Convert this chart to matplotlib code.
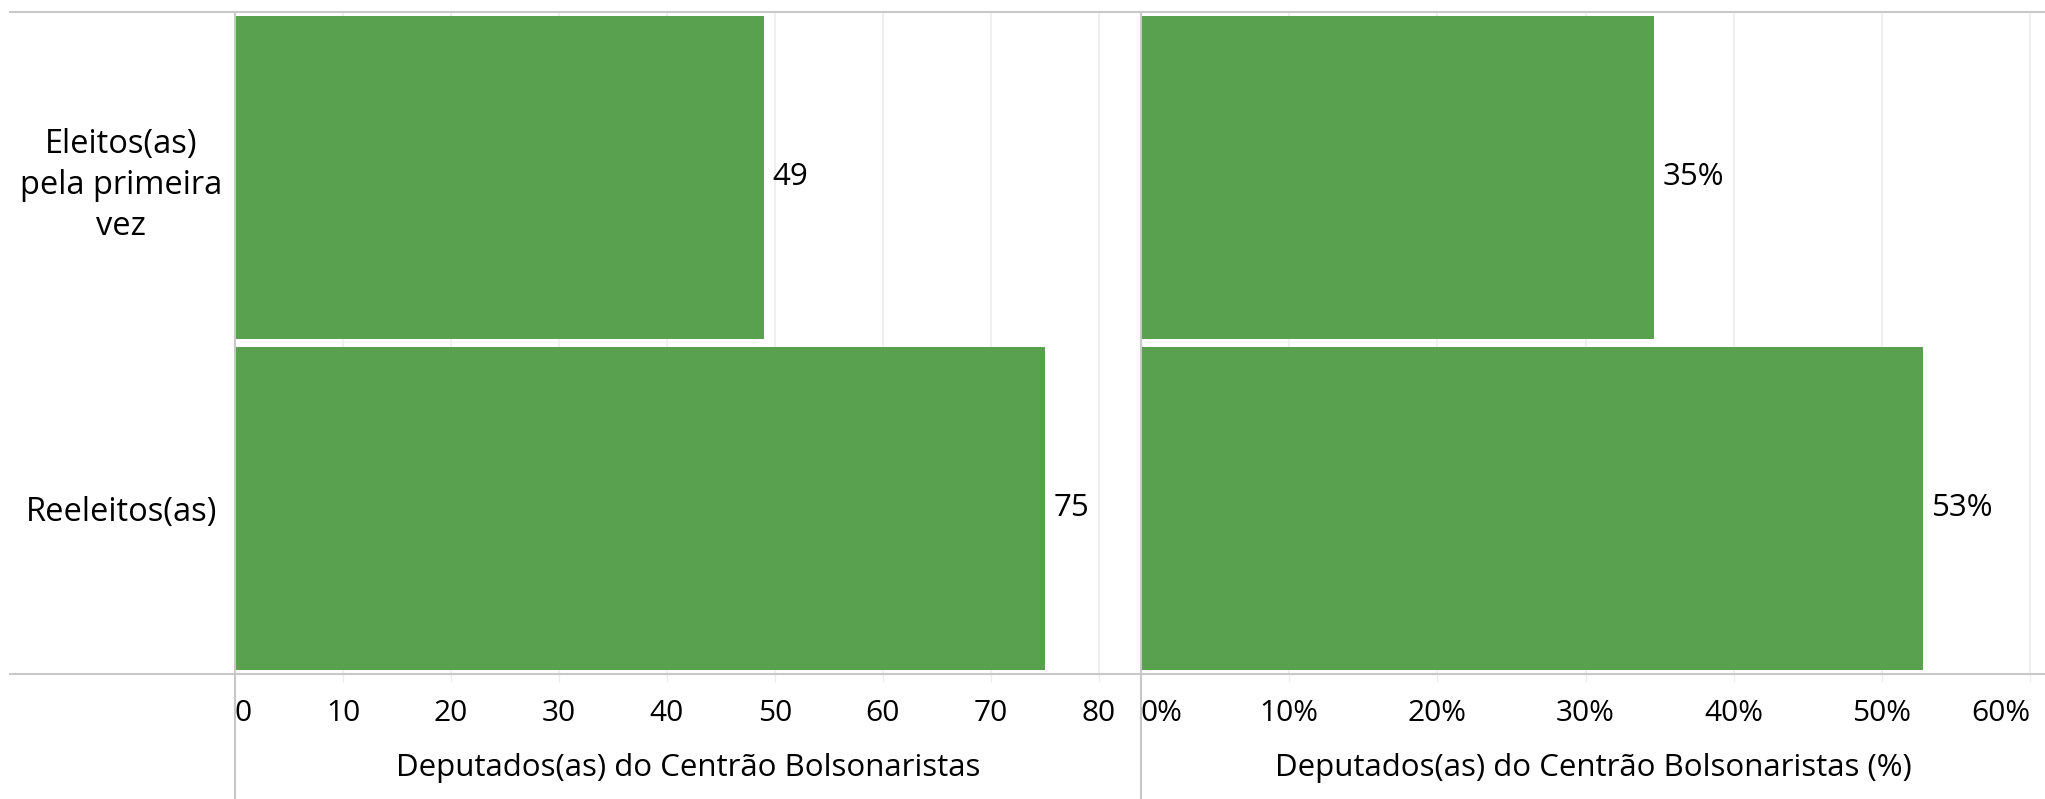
import matplotlib.pyplot as plt
from matplotlib.lines import Line2D

plt.rcParams['font.family'] = ['Open Sans', 'DejaVu Sans']

categorias = ['Eleitos(as)\npela primeira\nvez', 'Reeleitos(as)']
deputados = [49, 75]
percentual = [34.6, 52.8]
rotulos_pct = ['35%', '53%']
ticks_n = [0, 10, 20, 30, 40, 50, 60, 70, 80]
ticks_pct = [0, 10, 20, 30, 40, 50, 60]

verde = '#59a14f'
cinza = '#c8c8c8'
grade = '#ececec'

W, H = 2045, 799
fig = plt.figure(figsize=(W / 100, H / 100), dpi=100)

x0, x1, x2 = 235, 1141, 2045
ytop, ybot = 12, 674
ax1 = fig.add_axes([x0 / W, (H - ybot) / H, (x1 - x0) / W, (ybot - ytop) / H])
ax2 = fig.add_axes([x1 / W, (H - ybot) / H, (x2 - x1) / W, (ybot - ytop) / H])

ypos = [0, 1]
for ax, vals, ticks, xmax in [(ax1, deputados, ticks_n, 83.9), (ax2, percentual, ticks_pct, 61.0)]:
    ax.barh(ypos, vals, height=0.975, color=verde, zorder=2)
    ax.set_ylim(1.5, -0.5)
    ax.set_xlim(0, xmax)
    ax.set_xticks(ticks)
    ax.grid(axis='x', color=grade, linewidth=1.2, zorder=0)
    for s in ax.spines.values():
        s.set_visible(False)
    ax.tick_params(axis='x', length=6, color=grade, labelsize=21.5, pad=12)
    ax.tick_params(axis='y', length=0)

ax1.set_yticks(ypos)
ax1.set_yticklabels(categorias, fontsize=23.5, ha='center', multialignment='center', linespacing=1.33)
ax1.tick_params(axis='y', pad=82)
ax2.set_yticks([])

ax1.set_xticklabels([str(t) for t in ticks_n])
ax2.set_xticklabels([f'{t}%' for t in ticks_pct])
for ax in (ax1, ax2):
    labs = ax.get_xticklabels()
    labs[0].set_ha('left')
ax2.get_xticklabels()[-1].set_ha('right')

ax1.set_xlabel('Deputados(as) do Centrão Bolsonaristas', fontsize=22.5, labelpad=18)
ax2.set_xlabel('Deputados(as) do Centrão Bolsonaristas (%)', fontsize=22.5, labelpad=18)

for y, v in zip(ypos, deputados):
    ax1.annotate(str(v), (v, y), xytext=(6, 0), textcoords='offset points',
                 va='center', ha='left', fontsize=22.5)
for y, v, t in zip(ypos, percentual, rotulos_pct):
    ax2.annotate(t, (v, y), xytext=(6, 0), textcoords='offset points',
                 va='center', ha='left', fontsize=22.5)

# linhas de moldura
fig.add_artist(Line2D([10 / W, 1], [(H - ytop) / H] * 2, color=cinza, lw=1.5))
fig.add_artist(Line2D([10 / W, 1], [(H - ybot) / H] * 2, color=cinza, lw=1.5))
for xv in (x0, x1):
    fig.add_artist(Line2D([xv / W] * 2, [0, (H - ytop) / H], color=cinza, lw=1.5))

fig.savefig('out.png', dpi=100)
